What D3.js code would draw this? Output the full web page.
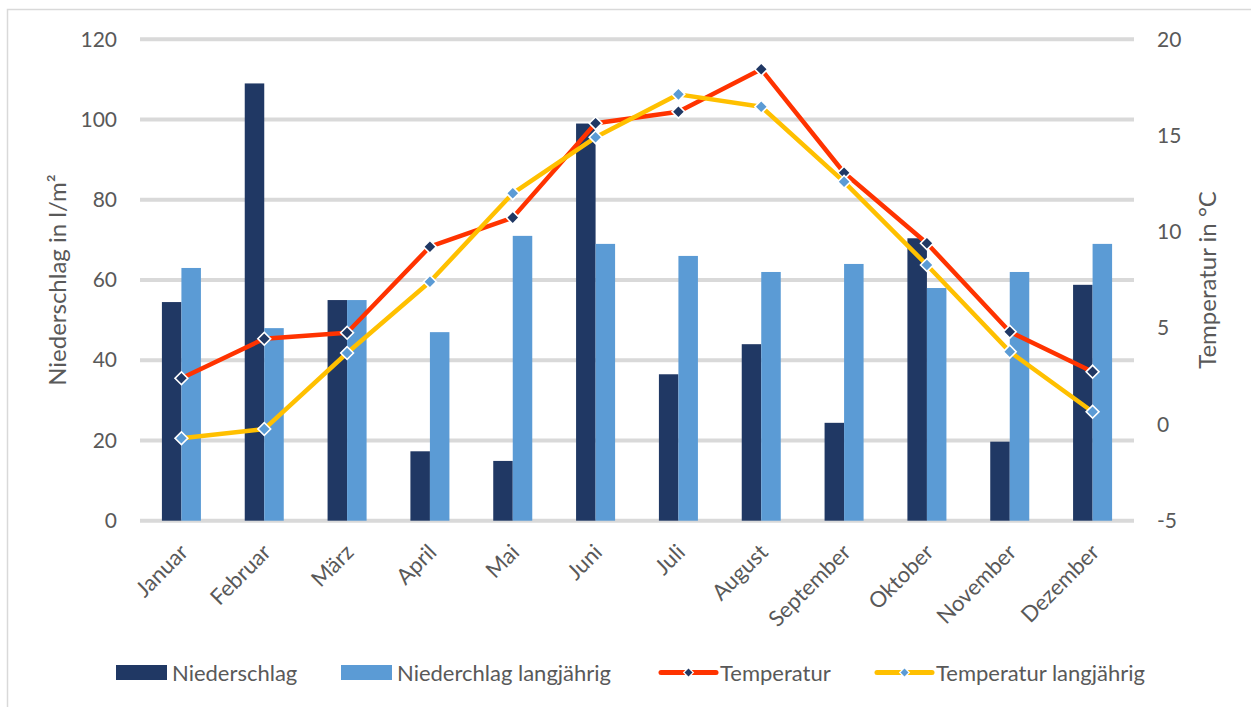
<!DOCTYPE html>
<html>
<head>
<meta charset="utf-8">
<script src="https://cdn.jsdelivr.net/npm/d3@7/dist/d3.min.js"></script>
<style>
  html, body { margin: 0; padding: 0; background: #fff; }
  svg { display: block; }
  text { font-family: Lato, "Open Sans", sans-serif; fill: #595959; }
</style>
</head>
<body>
<svg id="chart" width="1251" height="707"></svg>
<script>
// Monthly precipitation (l/m²) and temperature (°C), current year vs. long-term mean
const months = ["Januar", "Februar", "März", "April", "Mai", "Juni", "Juli", "August", "September", "Oktober", "November", "Dezember"];
const niederschlag = [54.5, 109, 55, 17.3, 14.9, 99, 36.5, 44, 24.4, 70.4, 19.7, 58.8];
const niederschlagLang = [63, 48, 55, 47, 71, 69, 66, 62, 64, 58, 62, 69];
const temperatur = [2.4, 4.45, 4.76, 9.23, 10.74, 15.64, 16.24, 18.44, 13.07, 9.41, 4.81, 2.74];
const temperaturLang = [-0.72, -0.24, 3.71, 7.41, 12.0, 14.91, 17.14, 16.5, 12.6, 8.28, 3.78, 0.66];
const leftTicks = [0, 20, 40, 60, 80, 100, 120];
const rightTicks = [-5, 0, 5, 10, 15, 20];

const colors = {
  niederschlag: "#203864",
  niederschlagLang: "#5b9bd5",
  temperatur: "#ff3300",
  temperaturLang: "#ffc000",
  grid: "#d9d9d9"
};

const svg = d3.select("#chart");
const plot = { left: 140, right: 1134, top: 39.3, bottom: 520.7 };

// chart frame
svg.append("rect")
  .attr("x", 7.5).attr("y", 9.5)
  .attr("width", 1260).attr("height", 720)
  .attr("fill", "none").attr("stroke", colors.grid).attr("stroke-width", 1.5);

const gap = 0.529;
const x = d3.scaleBand().domain(months).range([plot.left, plot.right])
  .paddingInner(gap).paddingOuter(gap / 2);
const xSub = d3.scaleBand().domain(["n", "l"]).range([0, x.bandwidth()]);
const yLeft = d3.scaleLinear().domain([0, 120]).range([plot.bottom, plot.top]);
const yRight = d3.scaleLinear().domain([-5, 20]).range([plot.bottom, plot.top]);
const cx = m => x(m) + x.bandwidth() / 2;

// horizontal gridlines
svg.append("g").selectAll("line").data(leftTicks).join("line")
  .attr("x1", plot.left).attr("x2", plot.right)
  .attr("y1", d => yLeft(d)).attr("y2", d => yLeft(d))
  .attr("stroke", colors.grid).attr("stroke-width", 4);

// left axis labels
const leftAxis = svg.append("g")
  .attr("transform", `translate(${plot.left - 23},0)`)
  .call(d3.axisLeft(yLeft).tickValues(leftTicks).tickFormat(d => String(d)).tickSize(0).tickPadding(0));
leftAxis.select(".domain").remove();
leftAxis.selectAll("text").attr("font-size", 21).style("font-family", "Lato").attr("fill", "#595959");

// right axis labels
const rightAxis = svg.append("g")
  .attr("transform", `translate(${plot.right + 23},0)`)
  .call(d3.axisRight(yRight).tickValues(rightTicks).tickFormat(d => String(d)).tickSize(0).tickPadding(0));
rightAxis.select(".domain").remove();
rightAxis.selectAll("text").attr("font-size", 21).style("font-family", "Lato").attr("fill", "#595959");

// bars
const barData = months.map((m, i) => [
  { m, key: "n", v: niederschlag[i], c: colors.niederschlag },
  { m, key: "l", v: niederschlagLang[i], c: colors.niederschlagLang }
]).flat();
svg.append("g").selectAll("rect").data(barData).join("rect")
  .attr("x", d => x(d.m) + xSub(d.key))
  .attr("width", xSub.bandwidth())
  .attr("y", d => yLeft(d.v))
  .attr("height", d => yLeft(0) - yLeft(d.v))
  .attr("fill", d => d.c);

// month labels
svg.append("g").selectAll("text").data(months).join("text")
  .attr("transform", m => `translate(${cx(m) + 8},${plot.bottom + 33}) rotate(-45)`)
  .attr("text-anchor", "end")
  .attr("font-size", 22)
  .text(m => m);

// temperature lines
const diamond = d3.symbol().type(d3.symbolSquare).size(82);
function drawSeries(values, lineColor, markerColor) {
  const pts = months.map((m, i) => [cx(m), yRight(values[i])]);
  svg.append("path")
    .attr("d", d3.line()(pts))
    .attr("fill", "none")
    .attr("stroke", lineColor)
    .attr("stroke-width", 4.5)
    .attr("stroke-linejoin", "round")
    .attr("stroke-linecap", "round");
  svg.append("g").selectAll("path").data(pts).join("path")
    .attr("d", diamond)
    .attr("transform", p => `translate(${p[0]},${p[1]}) rotate(45)`)
    .attr("fill", markerColor)
    .attr("stroke", "#fff")
    .attr("stroke-width", 1.6);
}
drawSeries(temperatur, colors.temperatur, colors.niederschlag);
drawSeries(temperaturLang, colors.temperaturLang, colors.niederschlagLang);

// axis titles
const midY = (plot.top + plot.bottom) / 2;
svg.append("text")
  .attr("transform", `translate(66,${midY}) rotate(-90)`)
  .attr("text-anchor", "middle")
  .attr("font-size", 24)
  .text("Niederschlag in l/m²");
svg.append("text")
  .attr("transform", `translate(1216,${midY}) rotate(-90)`)
  .attr("text-anchor", "middle")
  .attr("font-size", 24)
  .text("Temperatur in °C");

// legend
const legY = 672.5;
const legend = svg.append("g");
const barLegend = [
  { label: "Niederschlag", color: colors.niederschlag, x: 116 },
  { label: "Niederchlag langjährig", color: colors.niederschlagLang, x: 341 }
];
barLegend.forEach(d => {
  legend.append("rect").attr("x", d.x).attr("y", legY - 7.5).attr("width", 51).attr("height", 15).attr("fill", d.color);
  legend.append("text").attr("x", d.x + 56).attr("y", legY + 8).attr("font-size", 22).text(d.label);
});
const lineLegend = [
  { label: "Temperatur", line: colors.temperatur, marker: colors.niederschlag, x: 661 },
  { label: "Temperatur langjährig", line: colors.temperaturLang, marker: colors.niederschlagLang, x: 877 }
];
const smallDiamond = d3.symbol().type(d3.symbolSquare).size(46);
lineLegend.forEach(d => {
  legend.append("line").attr("x1", d.x).attr("x2", d.x + 55).attr("y1", legY).attr("y2", legY)
    .attr("stroke", d.line).attr("stroke-width", 5).attr("stroke-linecap", "round");
  legend.append("path").attr("d", smallDiamond)
    .attr("transform", `translate(${d.x + 27.5},${legY}) rotate(45)`)
    .attr("fill", d.marker).attr("stroke", "#fff").attr("stroke-width", 1.2);
  legend.append("text").attr("x", d.x + 59).attr("y", legY + 8).attr("font-size", 22).text(d.label);
});
</script>
</body>
</html>
